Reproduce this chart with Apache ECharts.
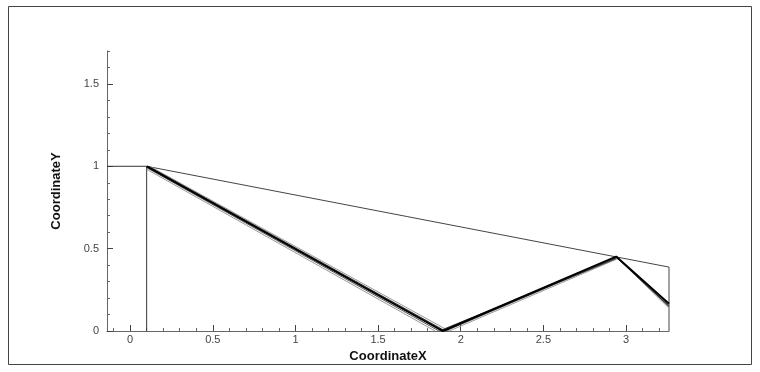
<!DOCTYPE html>
<html>
<head>
<meta charset="utf-8">
<script src="https://cdn.jsdelivr.net/npm/echarts@6/dist/echarts.min.js"></script>
<style>
  html, body { margin: 0; padding: 0; background: #fff; }
  #chart { width: 760px; height: 372px; }
</style>
</head>
<body>
<div id="chart"></div>
<script>
// Axis ranges and tick values
const xRange = [-0.14, 3.26];
const yRange = [0, 1.7];
const xMajorTicks = [0, 0.5, 1, 1.5, 2, 2.5, 3];
const xMinorTicks = [-0.1, 0.1, 0.2, 0.3, 0.4, 0.6, 0.7, 0.8, 0.9, 1.1, 1.2, 1.3, 1.4,
  1.6, 1.7, 1.8, 1.9, 2.1, 2.2, 2.3, 2.4, 2.6, 2.7, 2.8, 2.9, 3.1, 3.2];
const yMajorTicks = [0, 0.5, 1, 1.5];
const yMinorTicks = [0.1, 0.2, 0.3, 0.4, 0.6, 0.7, 0.8, 0.9, 1.1, 1.2, 1.3, 1.4, 1.6, 1.7];

// Domain boundary: inlet step, wall and outlet
const inletEdge = [[-0.14, 1.0], [0.1, 1.0], [0.1, 0.0]];
const upperWall = [[0.1, 1.0], [3.26, 0.388], [3.26, 0.0]];

// Shock contour levels (incident, reflected, re-reflected)
const contourOuterLow = [[0.1, 0.982], [1.845, 0.0]];
const contourInnerLow = [[0.1, 0.992], [1.868, 0.0], [2.94, 0.438]];
const contourCore = [[0.1, 1.0], [1.89, 0.0], [2.94, 0.452], [3.26, 0.165]];
const contourInnerHigh = [[0.108, 1.0], [1.905, 0.0], [2.946, 0.446], [3.26, 0.15]];
const contourOuterHigh = [[0.118, 1.0], [1.93, 0.0], [2.952, 0.44], [3.26, 0.138]];

const chart = echarts.init(document.getElementById('chart'), null, { renderer: 'canvas' });

const labelFont = { fontFamily: 'Liberation Sans, Arial, sans-serif', fontSize: 11, color: '#444' };
const titleFont = { fontFamily: 'Liberation Sans, Arial, sans-serif', fontSize: 13, fontWeight: 'bold', color: '#111' };

function lineSeries(data, color, width) {
  return {
    type: 'line', data: data, showSymbol: false, symbol: 'none',
    lineStyle: { color: color, width: width }, silent: true,
    xAxisIndex: 0, yAxisIndex: 0
  };
}

chart.setOption({
  animation: false,
  backgroundColor: '#fff',
  graphic: [{
    type: 'rect', shape: { x: 8.5, y: 6.5, width: 743, height: 358 },
    style: { fill: 'none', stroke: '#444', lineWidth: 1 }, silent: true
  }],
  grid: { left: 107, right: 91, top: 51, bottom: 41 },
  xAxis: [{
    type: 'value', min: xRange[0], max: xRange[1], position: 'bottom',
    name: 'CoordinateX', nameLocation: 'middle', nameGap: 16, nameTextStyle: titleFont,
    axisLine: { show: true, onZero: false, lineStyle: { color: '#666', width: 1 } },
    axisTick: { show: true, inside: true, length: 6, customValues: xMajorTicks, lineStyle: { color: '#444' } },
    axisLabel: { show: true, customValues: xMajorTicks, margin: 3, ...labelFont },
    splitLine: { show: false }
  }, {
    type: 'value', min: xRange[0], max: xRange[1], position: 'bottom', offset: 0,
    axisLine: { show: false, onZero: false },
    axisTick: { show: true, inside: true, length: 3, customValues: xMinorTicks, lineStyle: { color: '#666' } },
    axisLabel: { show: false },
    splitLine: { show: false }
  }],
  yAxis: [{
    type: 'value', min: yRange[0], max: yRange[1], position: 'left',
    name: 'CoordinateY', nameLocation: 'middle', nameGap: 44, nameRotate: 90, nameTextStyle: titleFont,
    axisLine: { show: true, onZero: false, lineStyle: { color: '#666', width: 1 } },
    axisTick: { show: true, inside: true, length: 6, customValues: yMajorTicks, lineStyle: { color: '#444' } },
    axisLabel: { show: true, customValues: yMajorTicks, margin: 8, ...labelFont },
    splitLine: { show: false }
  }, {
    type: 'value', min: yRange[0], max: yRange[1], position: 'left', offset: 0,
    axisLine: { show: false, onZero: false },
    axisTick: { show: true, inside: true, length: 3, customValues: yMinorTicks, lineStyle: { color: '#666' } },
    axisLabel: { show: false },
    splitLine: { show: false }
  }],
  series: [
    lineSeries(inletEdge, '#333', 1),
    lineSeries(upperWall, '#444', 1),
    lineSeries(contourOuterLow, '#999', 1),
    lineSeries(contourOuterHigh, '#999', 1),
    lineSeries(contourInnerLow, '#555', 1),
    lineSeries(contourInnerHigh, '#333', 1.2),
    lineSeries(contourCore, '#000', 2)
  ]
});
</script>
</body>
</html>
